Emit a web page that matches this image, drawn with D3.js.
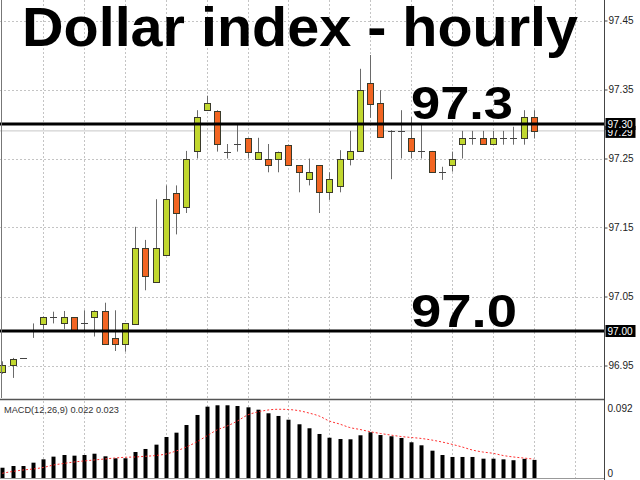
<!DOCTYPE html>
<html><head><meta charset="utf-8">
<script src="https://cdn.jsdelivr.net/npm/d3@7"></script>
<style>html,body{margin:0;padding:0;background:#fff;overflow:hidden}svg{display:block}</style>
</head><body>
<svg id="c" width="640" height="480"></svg>
<script>
// ---- data ----
const chartTitle = "Dollar index - hourly";
const openP  = [96.941,96.951,96.961,97.000,97.011,97.021,97.011,97.020,97.011,97.021,97.029,96.990,96.981,97.011,97.121,97.071,97.110,97.200,97.180,97.260,97.320,97.319,97.260,97.271,97.280,97.250,97.250,97.250,97.270,97.240,97.220,97.240,97.201,97.211,97.250,97.261,97.360,97.330,97.290,97.290,97.280,97.261,97.261,97.231,97.241,97.270,97.279,97.279,97.270,97.279,97.279,97.279,97.310];
const highP  = [96.956,96.961,96.961,97.011,97.021,97.028,97.029,97.020,97.030,97.030,97.041,97.030,97.011,97.151,97.132,97.191,97.211,97.211,97.261,97.320,97.341,97.320,97.271,97.299,97.280,97.280,97.271,97.260,97.270,97.240,97.250,97.240,97.230,97.262,97.290,97.380,97.400,97.349,97.291,97.320,97.310,97.299,97.261,97.238,97.260,97.290,97.290,97.290,97.290,97.290,97.296,97.320,97.320];
const lowP   = [96.938,96.932,96.961,96.990,97.003,97.011,97.003,97.001,97.001,96.992,96.981,96.971,96.970,97.011,97.059,97.071,97.110,97.140,97.171,97.250,97.320,97.260,97.250,97.260,97.250,97.250,97.230,97.230,97.241,97.201,97.211,97.171,97.190,97.201,97.240,97.261,97.309,97.280,97.220,97.250,97.250,97.250,97.231,97.219,97.231,97.250,97.270,97.270,97.270,97.270,97.270,97.270,97.279];
const closeP = [96.951,96.960,96.961,97.000,97.021,97.021,97.020,97.001,97.011,97.029,96.981,96.981,97.011,97.121,97.080,97.121,97.191,97.171,97.250,97.310,97.330,97.271,97.260,97.271,97.260,97.260,97.241,97.260,97.241,97.230,97.230,97.201,97.220,97.250,97.261,97.350,97.330,97.280,97.290,97.290,97.261,97.261,97.231,97.231,97.250,97.279,97.279,97.270,97.279,97.279,97.279,97.310,97.290];
const macdHist = [0.0126,0.0147,0.0147,0.0188,0.0229,0.0262,0.0282,0.0274,0.0282,0.0298,0.0266,0.0242,0.0242,0.0319,0.0356,0.0409,0.0503,0.0556,0.0650,0.0773,0.0875,0.0892,0.0892,0.0883,0.0867,0.0838,0.0794,0.0761,0.0715,0.0659,0.0610,0.0540,0.0494,0.0478,0.0475,0.0524,0.0561,0.0527,0.0512,0.0491,0.0438,0.0401,0.0335,0.0282,0.0258,0.0258,0.0258,0.0237,0.0237,0.0229,0.0218,0.0235,0.0222];
const macdSignal = [0.0058,0.0080,0.0098,0.0110,0.0129,0.0159,0.0178,0.0196,0.0209,0.0221,0.0233,0.0245,0.0254,0.0258,0.0266,0.0276,0.0294,0.0331,0.0380,0.0442,0.0515,0.0589,0.0638,0.0699,0.0773,0.0810,0.0834,0.0843,0.0840,0.0826,0.0797,0.0760,0.0699,0.0662,0.0619,0.0595,0.0568,0.0546,0.0527,0.0509,0.0497,0.0485,0.0466,0.0442,0.0413,0.0380,0.0343,0.0319,0.0303,0.0276,0.0258,0.0245,0.0232];
const priceTicks = [96.95,97.05,97.15,97.25,97.35,97.45];
const macdTicks = [0, 0.092];
const levelLines = [97.30, 97.00];
const levelTexts = ["97.3", "97.0"];
const bidPrice = 97.29;
const macdLabel = "MACD(12,26,9) 0.022 0.023";

// ---- scales ----
const svg = d3.select("#c");
const n = openP.length;
const x = d3.scaleLinear().domain([0, n - 1]).range([2.3, 533.8]);
const y = d3.scaleLinear().domain([96.95, 97.45]).range([365.5, 20.5]);
const ym = d3.scaleLinear().domain([0, 0.092]).range([478, 403]);
const axisX = 604.5, mainBottom = 398, macdTop = 400, macdBottom = 478;
const font = "'Liberation Sans', Arial, sans-serif";

svg.append("rect").attr("width", 640).attr("height", 480).attr("fill", "#fff");

// ---- grid ----
const gridG = svg.append("g").attr("stroke", "#c4c4c4").attr("stroke-dasharray", "2,2").attr("stroke-width", 1);
priceTicks.forEach(t => {
  gridG.append("line").attr("x1", 0).attr("x2", axisX).attr("y1", Math.round(y(t)) + 0.5).attr("y2", Math.round(y(t)) + 0.5);
});
for (let i = 4; i <= 56; i += 4) {
  const gx = Math.round(x(i)) + 0.5;
  gridG.append("line").attr("x1", gx).attr("x2", gx).attr("y1", 0).attr("y2", mainBottom);
  gridG.append("line").attr("x1", gx).attr("x2", gx).attr("y1", macdTop + 1).attr("y2", macdBottom);
}

// ---- bid line ----
svg.append("line").attr("x1", 0).attr("x2", axisX).attr("y1", y(bidPrice)).attr("y2", y(bidPrice))
  .attr("stroke", "#c8c8c8").attr("stroke-width", 1);

// ---- candles ----
const idx = d3.range(n);
const cg = svg.append("g");
const bw = 7;
idx.forEach(i => {
  const cx = Math.round(x(i)) + 0.5;
  const o = openP[i], c = closeP[i], h = highP[i], l = lowP[i];
  if (h > l) {
    cg.append("line").attr("x1", cx).attr("x2", cx).attr("y1", y(h)).attr("y2", y(l))
      .attr("stroke", "#6a6a6a").attr("stroke-width", 1);
  }
  if (Math.abs(o - c) < 0.0005) {
    cg.append("line").attr("x1", cx - 3.5).attr("x2", cx + 3.5).attr("y1", Math.round(y(o)) + 0.5).attr("y2", Math.round(y(o)) + 0.5)
      .attr("stroke", "#444").attr("stroke-width", 1);
  } else {
    const top = y(Math.max(o, c)), bot = y(Math.min(o, c));
    cg.append("rect").attr("x", cx - bw / 2 + 0.5).attr("y", Math.round(top) + 0.5)
      .attr("width", bw - 1).attr("height", Math.max(1, Math.round(bot - top)))
      .attr("fill", c > o ? "#c1d72e" : "#f26522")
      .attr("stroke", "#3a3a2a").attr("stroke-width", 1);
  }
});

// ---- horizontal levels ----
levelLines.forEach(v => {
  svg.append("line").attr("x1", 0).attr("x2", axisX).attr("y1", y(v)).attr("y2", y(v))
    .attr("stroke", "#000").attr("stroke-width", 3);
});

// ---- big texts ----
svg.append("text").attr("x", 22).attr("y", 46).text(chartTitle)
  .attr("font-family", font).attr("font-weight", "bold").attr("font-size", 56)
  .attr("textLength", 556).attr("lengthAdjust", "spacingAndGlyphs").attr("fill", "#000");
const levelTextX = [411, 411], levelTextY = [119, 327], levelTextW = [102, 106];
levelTexts.forEach((t, k) => {
  svg.append("text").attr("x", levelTextX[k]).attr("y", levelTextY[k]).text(t)
    .attr("font-family", font).attr("font-weight", "bold").attr("font-size", 46)
    .attr("textLength", levelTextW[k]).attr("lengthAdjust", "spacingAndGlyphs").attr("fill", "#000");
});

// ---- left border ----
svg.append("line").attr("x1", 1.5).attr("x2", 1.5).attr("y1", 0).attr("y2", mainBottom).attr("stroke", "#777");

// ---- price axis ----
const ax = svg.append("g").attr("transform", `translate(${axisX},0)`)
  .call(d3.axisRight(y).tickValues(priceTicks).tickSize(3).tickPadding(1).tickFormat(d3.format(".2f")));
ax.select(".domain").remove();
ax.selectAll("text").attr("font-family", font).attr("font-size", 10).attr("fill", "#222");
ax.selectAll("line").attr("stroke", "#444");

// ---- price labels in boxes ----
function priceBox(v, cy) {
  const g = svg.append("g");
  g.append("rect").attr("x", axisX + 1).attr("y", cy - 6).attr("width", 30).attr("height", 12).attr("fill", "#000");
  g.append("text").attr("x", axisX + 3).attr("y", cy + 4).text(d3.format(".2f")(v))
    .attr("font-family", font).attr("font-size", 10).attr("fill", "#fff");
}
priceBox(bidPrice, y(bidPrice) + 1);
levelLines.forEach(v => priceBox(v, y(v)));

// ---- MACD panel ----
svg.append("rect").attr("x", 0).attr("y", mainBottom).attr("width", 640).attr("height", macdTop - mainBottom).attr("fill", "#fff");
svg.append("line").attr("x1", 0).attr("x2", axisX).attr("y1", 399.5).attr("y2", 399.5).attr("stroke", "#555").attr("stroke-width", 1.5);
svg.append("line").attr("x1", 0).attr("x2", axisX).attr("y1", macdBottom + 0.5).attr("y2", macdBottom + 0.5).attr("stroke", "#999");

svg.append("g").selectAll("rect").data(idx).join("rect")
  .attr("x", i => Math.round(x(i)) - 1.5).attr("width", 4)
  .attr("y", i => ym(macdHist[i])).attr("height", i => ym(0) - ym(macdHist[i]))
  .attr("fill", "#000");

svg.append("path").datum(idx)
  .attr("d", d3.line().x(i => x(i)).y(i => ym(macdSignal[i])).curve(d3.curveMonotoneX))
  .attr("fill", "none").attr("stroke", "#ff3030").attr("stroke-width", 1).attr("stroke-dasharray", "2,2");

svg.append("text").attr("x", 4).attr("y", 413).text(macdLabel)
  .attr("font-family", font).attr("font-size", 9.2).attr("fill", "#333");

const mAx = svg.append("g").attr("transform", `translate(${axisX},0)`)
  .call(d3.axisRight(ym).tickValues(macdTicks).tickSize(0).tickPadding(3).tickFormat(d => d === 0 ? "0" : d3.format(".3f")(d)));
mAx.select(".domain").remove();
mAx.selectAll("text").attr("font-family", font).attr("font-size", 10).attr("fill", "#222")
  .attr("dy", d => d === 0 ? "-0.2em" : "0.85em");

// ---- axis line ----
svg.append("line").attr("x1", axisX).attr("x2", axisX).attr("y1", 0).attr("y2", 480).attr("stroke", "#444");
</script>
</body></html>
